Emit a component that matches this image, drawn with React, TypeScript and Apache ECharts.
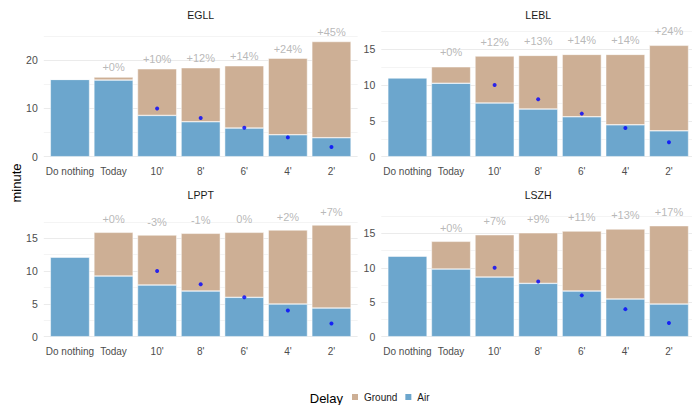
import React, { useEffect, useRef } from "react";
import * as echarts from "echarts";

const categories = ["Do nothing", "Today", "10'", "8'", "6'", "4'", "2'"];
const targetDelay: (number | null)[] = [null, null, 10, 8, 6, 4, 2];
const airports = ["EGLL", "LEBL", "LPPT", "LSZH"];

const egllAir = [16.0, 15.86, 8.55, 7.24, 5.93, 4.55, 3.93];
const egllTotal = [16.0, 16.48, 18.2, 18.42, 18.83, 20.4, 23.85];
const egllLabels = ["", "+0%", "+10%", "+12%", "+14%", "+24%", "+45%"];

const leblAir = [10.98, 10.23, 7.48, 6.64, 5.56, 4.44, 3.6];
const leblTotal = [10.98, 12.52, 14.02, 14.11, 14.25, 14.25, 15.51];
const leblLabels = ["", "+0%", "+12%", "+13%", "+14%", "+14%", "+24%"];

const lpptAir = [12.15, 9.25, 7.88, 6.96, 6.0, 4.98, 4.37];
const lpptTotal = [12.15, 15.91, 15.5, 15.76, 15.91, 16.27, 17.03];
const lpptLabels = ["", "+0%", "-3%", "-1%", "0%", "+2%", "+7%"];

const lszhAir = [11.71, 9.82, 8.66, 7.74, 6.63, 5.47, 4.74];
const lszhTotal = [11.71, 13.84, 14.8, 15.08, 15.33, 15.63, 16.11];
const lszhLabels = ["", "+0%", "+7%", "+9%", "+11%", "+13%", "+17%"];

const airData = [egllAir, leblAir, lpptAir, lszhAir];
const totalData = [egllTotal, leblTotal, lpptTotal, lszhTotal];
const labelData = [egllLabels, leblLabels, lpptLabels, lszhLabels];

const LABEL_OFFSET = 2;

const layout = [
  { bgLeft: 43.8, zeroY: 156.7, ppu: 4.83, max: 25, step: 5, labelStep: 10, titleY: 15 },
  { bgLeft: 381.3, zeroY: 156.7, ppu: 7.18, max: 17.5, step: 2.5, labelStep: 5, titleY: 15 },
  { bgLeft: 43.8, zeroY: 336.7, ppu: 6.56, max: 17.5, step: 2.5, labelStep: 5, titleY: 195 },
  { bgLeft: 381.3, zeroY: 336.7, ppu: 6.89, max: 17.5, step: 2.5, labelStep: 5, titleY: 195 },
];
const BG_WIDTH = 313.8;

const GROUND = "#CDAF95";
const AIR = "#6CA6CD";
const FONT = "Liberation Sans";

export default function App() {
  const ref = useRef<HTMLDivElement>(null);
  useEffect(() => {
    if (!ref.current) return;
    const chart = echarts.init(ref.current, undefined, { renderer: "svg" });
    const grid: any[] = [];
    const xAxis: any[] = [];
    const yAxis: any[] = [];
    const series: any[] = [];
    const graphic: any[] = [];

    layout.forEach((L, p) => {
      const cw = BG_WIDTH / 7.2;
      const height = L.max * L.ppu;
      const top = L.zeroY - height;
      const barLeft = L.bgLeft + 0.1 * cw;
      const bgIdx = p * 2;
      const barIdx = p * 2 + 1;
      grid.push({ left: L.bgLeft, top, width: BG_WIDTH, height, containLabel: false });
      grid.push({ left: barLeft, top, width: 7 * cw, height, containLabel: false });
      xAxis.push({ gridIndex: bgIdx, type: "value", min: 0, max: 1, show: false });
      yAxis.push({
        gridIndex: bgIdx,
        type: "value",
        min: 0,
        max: L.max,
        interval: L.step,
        axisLine: { show: false },
        axisTick: { show: false },
        axisLabel: {
          color: "#4D4D4D",
          fontSize: 10.5,
          fontFamily: FONT,
          margin: 6,
          formatter: (v: number) => (Math.abs(v % L.labelStep) < 1e-9 ? String(v) : ""),
        },
        splitLine: { show: true, lineStyle: { color: ["#EBEBEB", "#F4F4F4"], width: 1 } },
      });
      xAxis.push({
        gridIndex: barIdx,
        type: "category",
        data: categories,
        axisLine: { show: false },
        axisTick: { show: false },
        axisLabel: { color: "#4D4D4D", fontSize: 10, fontFamily: FONT, margin: 10, interval: 0 },
      });
      yAxis.push({ gridIndex: barIdx, type: "value", min: 0, max: L.max, show: false });

      series.push({
        type: "line",
        xAxisIndex: bgIdx,
        yAxisIndex: bgIdx,
        data: [],
        silent: true,
      });
      const air = airData[p];
      const total = totalData[p];
      const labels = labelData[p];
      series.push({
        type: "bar",
        name: "Air",
        xAxisIndex: barIdx,
        yAxisIndex: barIdx,
        stack: "s" + p,
        barWidth: "90%",
        data: air,
        itemStyle: { color: AIR, borderColor: "#ffffff", borderWidth: 0.5 },
      });
      series.push({
        type: "bar",
        name: "Ground",
        xAxisIndex: barIdx,
        yAxisIndex: barIdx,
        stack: "s" + p,
        barWidth: "90%",
        data: total.map((t, j) => +(t - air[j]).toFixed(3)),
        itemStyle: { color: GROUND, borderColor: "#ffffff", borderWidth: 0.5 },
      });
      series.push({
        type: "scatter",
        xAxisIndex: barIdx,
        yAxisIndex: barIdx,
        clip: false,
        silent: true,
        symbolSize: 1,
        itemStyle: { color: "transparent" },
        data: total
          .map((t, j) => (labels[j] ? { value: [j, t + LABEL_OFFSET], name: labels[j] } : null))
          .filter((d) => d !== null),
        label: {
          show: true,
          position: "inside",
          formatter: "{b}",
          color: "#A6A6A6",
          fontSize: 11,
          fontFamily: FONT,
        },
        z: 5,
      });
      series.push({
        type: "scatter",
        xAxisIndex: barIdx,
        yAxisIndex: barIdx,
        symbolSize: 4,
        itemStyle: { color: "#0000FF" },
        data: targetDelay
          .map((v, j) => (v === null ? null : [j, v]))
          .filter((d) => d !== null),
        z: 6,
      });

      graphic.push({
        type: "text",
        x: barLeft + 3.5 * cw,
        y: L.titleY,
        style: {
          text: airports[p],
          textAlign: "center",
          textVerticalAlign: "middle",
          align: "center",
          verticalAlign: "middle",
          fill: "#1A1A1A",
          fontSize: 10.5,
          fontFamily: FONT,
        },
      });
    });

    graphic.push({
      type: "text",
      x: 16,
      y: 183,
      rotation: Math.PI / 2,
      style: {
        text: "minute",
        textAlign: "center",
        textVerticalAlign: "middle",
        align: "center",
        verticalAlign: "middle",
        fill: "#000000",
        fontSize: 13,
        fontFamily: FONT,
      },
    });
    graphic.push({
      type: "text",
      x: 343,
      y: 398,
      style: {
        text: "Delay",
        textAlign: "right",
        textVerticalAlign: "middle",
        align: "right",
        verticalAlign: "middle",
        fill: "#000000",
        fontSize: 13,
        fontFamily: FONT,
      },
    });

    chart.setOption({
      animation: false,
      backgroundColor: "#ffffff",
      textStyle: { fontFamily: FONT },
      grid,
      xAxis,
      yAxis,
      series,
      graphic,
      legend: {
        data: ["Ground", "Air"],
        left: 350,
        top: 392,
        padding: 0,
        itemWidth: 8,
        itemHeight: 8,
        itemGap: 6,
        icon: "rect",
        selectedMode: false,
        textStyle: { fontSize: 10, color: "#1A1A1A", fontFamily: FONT },
      },
    });
    return () => chart.dispose();
  }, []);
  return (
    <div
      ref={ref}
      style={{ position: "absolute", left: 0, top: 0, width: 692, height: 405 }}
    />
  );
}
